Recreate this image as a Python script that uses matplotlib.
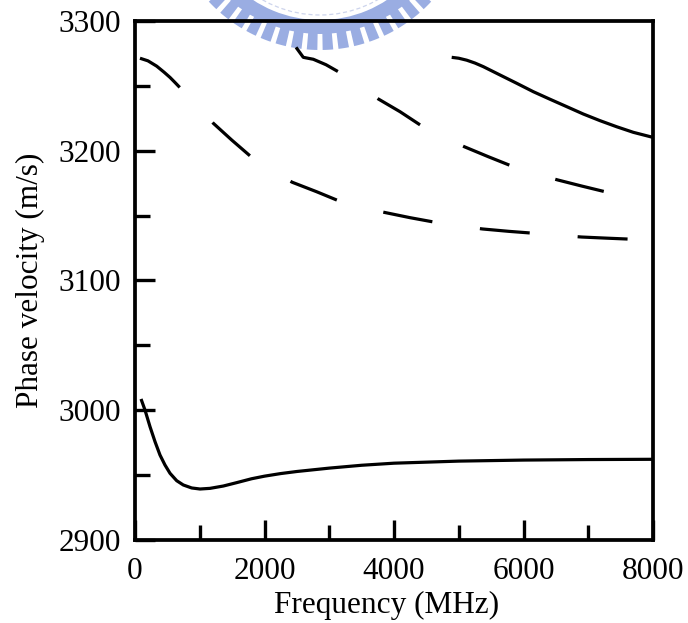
import matplotlib
matplotlib.use("Agg")
import matplotlib.pyplot as plt
from matplotlib.patches import Wedge, Circle

plt.rcParams["font.family"] = ["Liberation Serif", "DejaVu Serif"]
plt.rcParams["lines.scale_dashes"] = False

# Lowest mode (solid)
f_mode1 = [93, 154, 232, 309, 386, 463, 541, 644, 746, 876, 1004, 1158, 1364,
           1570, 1800, 2000, 2250, 2500, 3000, 3500, 4000, 5000, 6000, 7000,
           8000]
v_mode1 = [3008.7, 3000.2, 2987.3, 2975.8, 2965.5, 2957.8, 2951.4, 2945.7,
           2942.4, 2940.1, 2939.3, 2939.8, 2941.6, 2944.2, 2947.2, 2949.2,
           2951.2, 2952.8, 2955.4, 2957.6, 2959.2, 2960.8, 2961.6, 2962.0,
           2962.2]

# Second mode (dashed)
f_mode2 = [77, 200, 335, 450, 541, 620, 695, 900, 1100, 1209, 1493, 1792,
           2100, 2429, 2806, 3151, 3500, 3870, 4250, 4633, 5000, 5370, 5770,
           6162, 6530, 6899, 7300, 7681]
v_mode2 = [3271.3, 3269.3, 3265.2, 3260.5, 3256.5, 3252.5, 3248.6, 3237.8,
           3227.5, 3221.2, 3208.3, 3195.4, 3184.8, 3175.7, 3168.4, 3161.3,
           3156.2, 3152.3, 3148.4, 3144.9, 3142.1, 3139.7, 3137.9, 3136.4,
           3134.9, 3133.5, 3132.6, 3131.8]

# Third mode (dashed)
f_mode3 = [2487, 2599, 2754, 2950, 3140, 3450, 3758, 4093, 4428, 4760, 5086,
           5457, 5818, 6170, 6528, 6899, 7294]
v_mode3 = [3279.7, 3272.0, 3270.5, 3266.3, 3260.9, 3250.6, 3239.9, 3230.1,
           3219.1, 3210.6, 3203.1, 3195.4, 3188.2, 3182.5, 3177.5, 3172.8,
           3168.0]

# Upper branch (solid)
f_mode4 = [4891, 5000, 5123, 5250, 5380, 5637, 5895, 6152, 6409, 6667, 6924,
           7181, 7439, 7696, 8000]
v_mode4 = [3272.0, 3271.3, 3269.8, 3267.6, 3264.8, 3258.4, 3252.0, 3245.5,
           3239.7, 3234.0, 3228.3, 3223.2, 3218.5, 3214.2, 3210.3]

x_major = [0, 2000, 4000, 6000, 8000]
x_minor = [1000, 3000, 5000, 7000]
y_major = [2900, 3000, 3100, 3200, 3300]
y_minor = [2950, 3050, 3150, 3250]

W, H = 688, 623
fig = plt.figure(figsize=(W / 100, H / 100), dpi=100)

# faint seal in the background at the top
bg = fig.add_axes([0, 0, 1, 1], zorder=0)
bg.set_xlim(0, W)
bg.set_ylim(H, 0)
bg.axis("off")
seal_c = (320, -102)
seal_col = "#9aade2"
bg.add_patch(Wedge(seal_c, 136, 0, 360, width=14, facecolor=seal_col,
                   edgecolor="none"))
for k in range(60):
    a = 93 + 6 * k
    bg.add_patch(Wedge(seal_c, 152, a - 2.0, a + 2.0, width=18,
                       facecolor=seal_col, edgecolor="none"))
bg.add_patch(Circle(seal_c, 117, fill=False, edgecolor="#cdd4ec", lw=0.9,
                    ls=(0, (3, 2))))

ax = fig.add_axes([135 / W, 1 - 540 / H, 518 / W, 519 / H], zorder=1)
ax.set_facecolor("none")

lw = 2.3
ax.plot(f_mode1, v_mode1, color="black", lw=lw, solid_capstyle="butt")
ax.plot(f_mode2, v_mode2, color="black", lw=lw, dashes=(36, 34.6),
        dash_capstyle="butt")
ax.plot(f_mode3, v_mode3, color="black", lw=lw, dashes=(36, 34.6),
        dash_capstyle="butt")
ax.plot(f_mode4, v_mode4, color="black", lw=lw, solid_capstyle="butt")

ax.set_xlim(0, 8000)
ax.set_ylim(2900, 3300)
ax.set_xticks(x_major)
ax.set_xticks(x_minor, minor=True)
ax.set_yticks(y_major)
ax.set_yticks(y_minor, minor=True)
ax.tick_params(which="both", direction="in", top=False, right=False,
               width=2.4, labelsize=22.5, color="black")
ax.tick_params(axis="x", which="major", pad=12)
ax.tick_params(axis="y", which="major", pad=10)
ax.tick_params(which="major", length=14.5)
ax.tick_params(which="minor", length=10.5)
for sp in ax.spines.values():
    sp.set_linewidth(2.7)

ax.set_xlabel("Frequency (MHz)", fontsize=22.5, labelpad=4)
ax.xaxis.label.set_x(0.485)
ax.set_ylabel("Phase velocity (m/s)", fontsize=22.5, labelpad=10)

fig.savefig("out.png", dpi=100)
